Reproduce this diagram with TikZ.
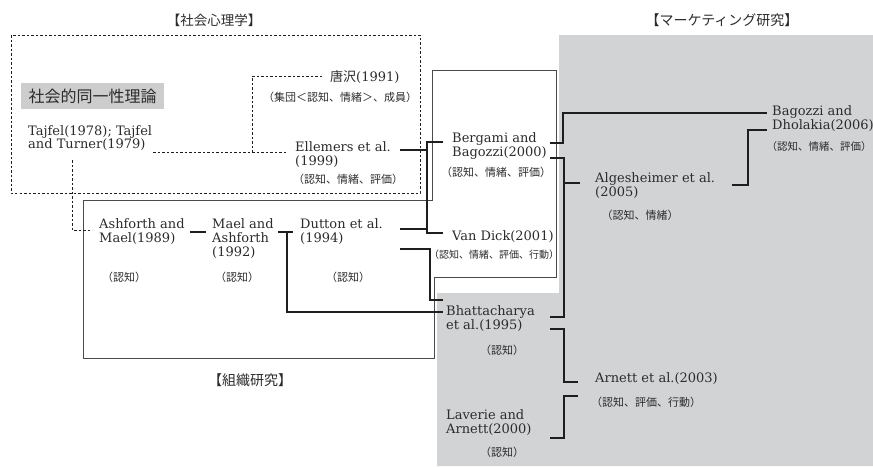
\documentclass[tikz,border=0pt]{standalone}
\usepackage{fontspec}
\setmainfont{DejaVu Serif}
\newfontfamily\jp{Noto Sans CJK JP}
\definecolor{txt}{HTML}{2B2B2B}
\definecolor{lin}{HTML}{1E1E1E}
\definecolor{frm}{HTML}{4A4A4A}
\definecolor{mktgray}{HTML}{D2D3D5}
\definecolor{boxg}{HTML}{CDCDCD}
\newcommand\tightlines{\lineskiplimit=-20pt\relax}
\begin{document}
\begin{tikzpicture}[x=1pt,y=-1pt,
  lat/.style={anchor=base west, inner sep=0pt, align=left, text=txt,
    font=\fontsize{13}{14}\selectfont\tightlines},
  sub/.style={anchor=center, inner sep=0pt, text=txt, font=\jp\fontsize{11}{13}\selectfont},
  hd/.style={anchor=center, inner sep=0pt, text=txt, font=\jp\fontsize{14}{16}\selectfont},
  conn/.style={draw=lin, line width=1.3pt},
  dsh/.style={draw=lin, line width=1pt, dash pattern=on 2.5pt off 2pt},
  frame/.style={draw=frm, line width=0.9pt}]
\useasboundingbox (0,0) rectangle (873,466);
% marketing area
\fill[mktgray] (559,35) -- (873,35) -- (873,466) -- (437,466) -- (437,293) -- (559,293) -- cycle;
% social psychology (dashed)
\draw[dsh] (11,35) rectangle (420,193);
% organisation (solid)
\draw[frame] (83,200) -- (432,200) -- (432,70) -- (556,70) -- (556,277) -- (434,277) -- (434,358) -- (83,358) -- cycle;

% headings
\node[hd,font=\jp\fontsize{13.5}{16}\selectfont] (hsoc) at (214,20) {【社会心理学】};
\node[hd] (hmkt) at (722,20) {【マーケティング研究】};
\node[hd] (horg) at (250,380) {【組織研究】};

% nodes (anchor = baseline of the last line)
\node[fill=boxg, minimum width=143pt, minimum height=26pt, inner sep=0pt, text=txt,
      font=\jp\fontsize{16}{18}\selectfont] (sit) at (92.5,96) {社会的同一性理論};
\node[lat, font=\fontsize{13}{12.5}\selectfont\tightlines] (tajfel) at (28,148) {Tajfel(1978); Tajfel\\and Turner(1979)};
\node[lat] (karasawa) at (330,81) {{\jp 唐沢}(1991)};
\node[sub] (karasawas) at (340,97) {（集団＜認知、情緒＞、成員）};
\node[lat] (ellemers) at (295,165) {Ellemers et al.\\(1999)};
\node[sub] (ellemerss) at (348,179) {（認知、情緒、評価）};
\node[lat] (ashforth) at (99,242) {Ashforth and\\Mael(1989)};
\node[sub] (ashforths) at (124,277) {（認知）};
\node[lat] (mael) at (212,256) {Mael and\\Ashforth\\(1992)};
\node[sub] (maels) at (237,277) {（認知）};
\node[lat] (dutton) at (300,242) {Dutton et al.\\(1994)};
\node[sub] (duttons) at (348,277) {（認知）};
\node[lat] (bergami) at (452,156) {Bergami and\\Bagozzi(2000)};
\node[sub] (bergamis) at (496,172) {（認知、情緒、評価）};
\node[lat] (vandick) at (452,240) {Van Dick(2001)};
\node[sub, font=\jp\fontsize{10}{12}\selectfont] (vandicks) at (494,255) {（認知、情緒、評価、行動）};
\node[lat] (bhatt) at (446,329) {Bhattacharya\\et al.(1995)};
\node[sub] (bhatts) at (502,350) {（認知）};
\node[lat] (alges) at (595,196) {Algesheimer et al.\\(2005)};
\node[sub] (algess) at (640,215) {（認知、情緒）};
\node[lat] (bagozzi) at (772,129) {Bagozzi and\\Dholakia(2006)};
\node[sub, font=\jp\fontsize{10.5}{12}\selectfont] (bagozzis) at (819,147) {（認知、情緒、評価）};
\node[lat] (arnett) at (595,382) {Arnett et al.(2003)};
\node[sub] (arnetts) at (646,402) {（認知、評価、行動）};
\node[lat] (laverie) at (446,433) {Laverie and\\Arnett(2000)};
\node[sub] (laveries) at (502,452) {（認知）};

% connector end points
\coordinate (tajOut) at (153,152);
\coordinate (ellIn) at (287,152);
\coordinate (karJ) at (252,152);
\coordinate (karIn) at (322,76);
\coordinate (tajDown) at (72,160);
\coordinate (ashIn) at (92,230);
\coordinate (ashOut) at (190,232);
\coordinate (maelIn) at (206,232);
\coordinate (maelOut) at (278,232);
\coordinate (dutIn) at (293,232);
\coordinate (maelJ) at (287,232);
\coordinate (bhaIn1) at (443,312);
\coordinate (ellOut) at (400,150);
\coordinate (dutOut1) at (400,229);
\coordinate (berIn) at (443,142);
\coordinate (vdIn) at (443,233);
\coordinate (dutOut2) at (400,249);
\coordinate (bhaIn2) at (443,300);
\coordinate (berOut1) at (550,143);
\coordinate (bagIn1) at (767,113);
\coordinate (berOut2) at (550,158);
\coordinate (bhaOut1) at (550,317);
\coordinate (algIn) at (580,183);
\coordinate (algOut) at (732,185);
\coordinate (bagIn2) at (767,130);
\coordinate (bhaOut2) at (550,329);
\coordinate (arnIn1) at (578,382);
\coordinate (arnIn2) at (578,396);
\coordinate (lavOut) at (550,438);

% dashed connectors
\draw[dsh] (tajOut) -- (ellIn);
\draw[dsh] (karIn) -| (karJ);
\draw[dsh] (tajDown) |- (ashIn);

% solid connectors
\draw[conn] (ashOut) -- (maelIn);
\draw[conn] (maelOut) -- (dutIn);
\draw[conn] (maelJ) |- (bhaIn1);
\draw[conn] (ellOut) -- (427,150);
\draw[conn] (dutOut1) -- (427,229);
\draw[conn] (berIn) -- (427,142) -- (427,233) -- (vdIn);
\draw[conn] (dutOut2) -- (430,249) -- (430,300) -- (bhaIn2);
\draw[conn] (berOut1) -- (563,143) -- (563,113) -- (bagIn1);
\draw[conn] (berOut2) -- (564,158) -- (564,317) -- (bhaOut1);
\draw[conn] (564,183) -- (algIn);
\draw[conn] (algOut) -- (748,185) -- (748,130) -- (bagIn2);
\draw[conn] (bhaOut2) -- (564,329) -- (564,382) -- (arnIn1);
\draw[conn] (arnIn2) -- (564,396) -- (564,438) -- (lavOut);
\end{tikzpicture}
\end{document}
